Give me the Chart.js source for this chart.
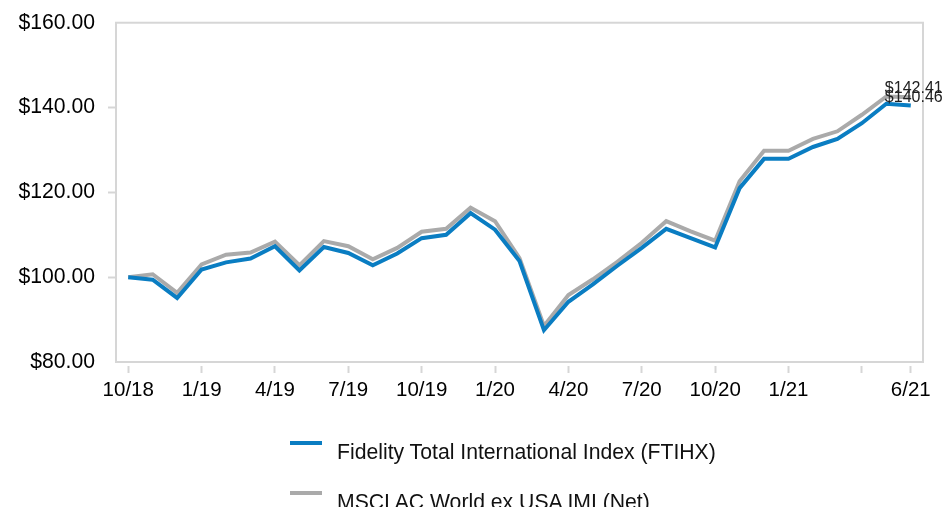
<!DOCTYPE html>
<html>
<head>
<meta charset="utf-8">
<script src="https://cdn.jsdelivr.net/npm/chart.js@4/dist/chart.umd.min.js"></script>
<style>
html,body{margin:0;padding:0;overflow:hidden;background:#ffffff;}
#wrap{position:relative;width:947px;height:507px;overflow:hidden;}
#c{position:absolute;left:0;top:0;}
.lg-mark{position:absolute;left:290px;width:32px;height:4px;}
.lg-text{position:absolute;left:337px;font-family:"Liberation Sans",Arial,sans-serif;font-size:21.2px;line-height:1;color:#111;white-space:nowrap;}
</style>
</head>
<body>
<div id="wrap">
<canvas id="c" width="947" height="507"></canvas>
<div id="legend"></div>
</div>
<script>
// ---- data ----
const categories = ['10/18','11/18','12/18','1/19','2/19','3/19','4/19','5/19','6/19','7/19','8/19','9/19','10/19','11/19','12/19',
  '1/20','2/20','3/20','4/20','5/20','6/20','7/20','8/20','9/20','10/20','11/20','12/20','1/21','2/21','3/21','4/21','5/21','6/21'];
const ftihx = [100.0, 99.4, 95.1, 101.8, 103.5, 104.4, 107.3, 101.6, 107.1, 105.7, 102.8, 105.6, 109.2, 110.0, 115.1,
  111.2, 103.8, 87.5, 94.2, 98.3, 102.7, 106.9, 111.4, 109.2, 107.0, 121.0, 127.9, 127.9, 130.7, 132.6, 136.3, 140.9, 140.46];
const msci = [100.0, 100.7, 96.3, 103.0, 105.3, 105.8, 108.4, 102.8, 108.5, 107.3, 104.2, 106.9, 110.7, 111.4, 116.4,
  113.2, 104.5, 88.5, 95.8, 99.5, 103.6, 108.1, 113.2, 110.8, 108.6, 122.6, 129.8, 129.8, 132.6, 134.4, 138.3, 142.6, 142.41];
const seriesNames = ['Fidelity Total International Index (FTIHX)', 'MSCI AC World ex USA IMI (Net)'];
const labeledTicks = ['10/18','1/19','4/19','7/19','10/19','1/20','4/20','7/20','10/20','1/21','6/21'];
const unlabeledTicks = ['4/21'];
const yTicks = [80, 100, 120, 140, 160];
const yTickMarks = [100, 120, 140];

// ---- styles ----
const BLUE = '#0a7dc2';
const GRAY = '#aaaaaa';
const FRAME = '#d6d6d6';
const FONT = '"Liberation Sans", Arial, sans-serif';

const framePlugin = {
  id: 'frame',
  beforeDatasetsDraw(chart) {
    const a = chart.chartArea, ctx = chart.ctx;
    ctx.save();
    ctx.strokeStyle = FRAME;
    ctx.lineWidth = 2;
    ctx.strokeRect(a.left, a.top, a.right - a.left, a.bottom - a.top);
    ctx.restore();
  }
};

const endLabels = {
  id: 'endLabels',
  afterDatasetsDraw(chart) {
    const ctx = chart.ctx;
    ctx.save();
    ctx.font = '16px ' + FONT;
    ctx.fillStyle = '#222';
    ctx.textAlign = 'center';
    ctx.textBaseline = 'alphabetic';
    for (let d = chart.data.datasets.length - 1; d >= 0; d--) {
      const meta = chart.getDatasetMeta(d);
      const data = chart.data.datasets[d].data;
      const pt = meta.data[data.length - 1];
      ctx.fillText('$' + data[data.length - 1].toFixed(2), pt.x + 3, pt.y - 4);
    }
    ctx.restore();
  }
};

const markedTick = (i) => labeledTicks.includes(categories[i]) || unlabeledTicks.includes(categories[i]);

const chart = new Chart(document.getElementById('c'), {
  type: 'line',
  data: {
    labels: categories,
    datasets: [
      { label: seriesNames[0], data: ftihx, borderColor: BLUE, backgroundColor: BLUE, borderWidth: 4,
        pointRadius: 0, tension: 0, borderJoinStyle: 'miter', fill: false },
      { label: seriesNames[1], data: msci, borderColor: GRAY, backgroundColor: GRAY, borderWidth: 4,
        pointRadius: 0, tension: 0, borderJoinStyle: 'miter', fill: false }
    ]
  },
  options: {
    responsive: false,
    animation: false,
    devicePixelRatio: 1,
    layout: { padding: { top: 20, right: 24, left: 0, bottom: 0 } },
    plugins: {
      legend: { display: false },
      tooltip: { enabled: false }
    },
    scales: {
      x: {
        offset: true,
        afterFit: (s) => { s.height = 145; },
        border: { display: true, color: FRAME, width: 2 },
        grid: {
          offset: false, drawOnChartArea: false, drawTicks: true, tickLength: 11, tickWidth: 2,
          tickColor: (ctx) => markedTick(ctx.index) ? FRAME : 'rgba(0,0,0,0)',
          tickBorderDash: [8, 3], tickBorderDashOffset: 8
        },
        ticks: {
          autoSkip: false, maxRotation: 0, minRotation: 0, padding: 5, color: '#000',
          font: { family: FONT, size: 20.5 },
          callback: (v, i) => labeledTicks.includes(categories[i]) ? categories[i] : ''
        }
      },
      y: {
        min: yTicks[0], max: yTicks[yTicks.length - 1],
        afterFit: (s) => { s.width = 116; },
        afterBuildTicks: (s) => { s.ticks = yTicks.map(v => ({ value: v })); },
        border: { display: true, color: FRAME, width: 2 },
        grid: {
          drawOnChartArea: false, drawTicks: true, tickLength: 11, tickWidth: 2,
          tickColor: (ctx) => (ctx.tick && yTickMarks.includes(ctx.tick.value)) ? FRAME : 'rgba(0,0,0,0)',
          tickBorderDash: [8, 3], tickBorderDashOffset: 8
        },
        ticks: {
          padding: 10, color: '#000', font: { family: FONT, size: 21.2 },
          callback: (v) => '$' + Number(v).toFixed(2)
        }
      }
    }
  },
  plugins: [framePlugin, endLabels]
});

// ---- legend (built from the chart's datasets) ----
const legendEl = document.getElementById('legend');
const rowTops = [441, 491];
chart.data.datasets.forEach((ds, i) => {
  const m = document.createElement('div');
  m.className = 'lg-mark';
  m.style.top = (rowTops[i]) + 'px';
  m.style.background = ds.borderColor;
  legendEl.appendChild(m);
  const t = document.createElement('div');
  t.className = 'lg-text';
  t.style.top = (rowTops[i] - 0.5) + 'px';
  t.textContent = ds.label;
  legendEl.appendChild(t);
});
</script>
</body>
</html>
